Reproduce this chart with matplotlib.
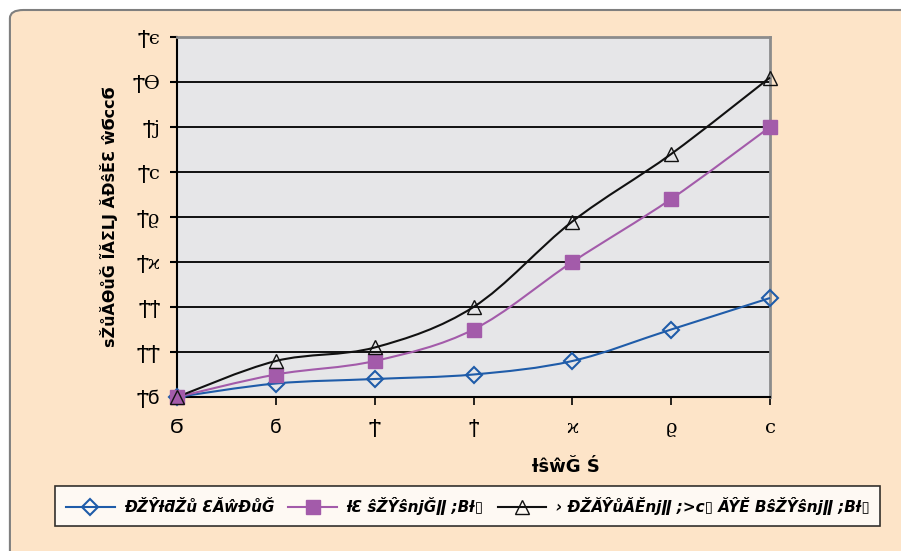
import matplotlib.pyplot as plt
import numpy as np
from matplotlib.path import Path
from matplotlib.patches import PathPatch, FancyBboxPatch
from matplotlib.lines import Line2D

# dados
tempo = [0, 1, 2, 3, 4, 5, 6]
controle = [21.0, 21.3, 21.4, 21.5, 21.8, 22.5, 23.2]
ionizado = [21.0, 21.5, 21.8, 22.5, 24.0, 25.4, 27.0]
coag_ion = [21.0, 21.8, 22.1, 23.0, 24.9, 26.4, 28.1]

xticks_lbl = ["Ϭ", "ϭ", "Ϯ", "ϯ", "ϰ", "ϱ", "ϲ"]
yticks = [21, 22, 23, 24, 25, 26, 27, 28, 29]
yticks_lbl = ["Ϯϭ", "ϮϮ", "Ϯϯ", "Ϯϰ", "Ϯϱ", "Ϯϲ", "Ϯϳ", "Ϯϴ", "Ϯϵ"]

nomes = ["ĐŽŶƚƌŽů ƐĂŵƉůĞ",
         "ƚƐ ŝŽŶŝnjĞǁ ;Bƚ▯",
         "› ĐŽĂŶůĂĚnjǁ ;>ϲ▯ ĂŶĚ BŝŽŶŝnjǁ ;Bƚ▯"]
xlabel = "ƚŝŵĞ Ś"
ylabel = "sŽůĂƟůĞ ĨĂƩLJ ĂĐŝĚƐ ŵϬϲϲϬ"

cores = ["#1F5CA9", "#A35BAA", "#111111"]


def curva_suave(x, y):
    # curva tipo Excel (Bezier com pontos de controle de Catmull-Rom)
    p = np.column_stack([x, y]).astype(float)
    verts = [p[0]]
    codes = [Path.MOVETO]
    n = len(p)
    for i in range(n - 1):
        p0 = p[i - 1] if i > 0 else p[i]
        p3 = p[i + 2] if i + 2 < n else p[i + 1]
        c1 = p[i] + (p[i + 1] - p0) / 6
        c2 = p[i + 1] - (p3 - p[i]) / 6
        verts += [c1, c2, p[i + 1]]
        codes += [Path.CURVE4] * 3
    return Path(verts, codes)


fig = plt.figure(figsize=(9.01, 5.51), dpi=100, facecolor="white")

# moldura externa
moldura = FancyBboxPatch((0.011, -0.1), 1.2, 1.1 - 10 / 551,
                         boxstyle="round,pad=0,rounding_size=0.015",
                         transform=fig.transFigure, facecolor="#FDE4C8",
                         edgecolor="#7F7F7F", linewidth=1.5, zorder=-10)
fig.patches.append(moldura)

ax = fig.add_axes([177 / 901, 1 - 397 / 551, (770 - 177) / 901, 360 / 551])
ax.set_facecolor("#E6E6E8")

ax.set_xlim(0, 6)
ax.set_ylim(21, 29)
ax.set_yticks(yticks)
ax.set_yticklabels(yticks_lbl, family=["DejaVu Serif", "DejaVu Sans"], fontsize=14)
ax.set_xticks(tempo)
ax.set_xticklabels(xticks_lbl, family=["DejaVu Serif", "DejaVu Sans"], fontsize=14)
ax.tick_params(axis="y", length=5, width=1.5, pad=7)
ax.tick_params(axis="x", length=6, width=1.2, pad=10)

ax.grid(axis="y", color="black", linewidth=1.3)
ax.set_axisbelow(True)
for lado in ["left", "bottom"]:
    ax.spines[lado].set_color("black")
    ax.spines[lado].set_linewidth(1.5)
for lado in ["top", "right"]:
    ax.spines[lado].set_color("#8C8C8C")
    ax.spines[lado].set_linewidth(2)

series = [controle, ionizado, coag_ion]
marcadores = [dict(marker="D", markersize=8, markerfacecolor="none", markeredgewidth=1.5),
              dict(marker="s", markersize=10),
              dict(marker="^", markersize=10, markerfacecolor="none", markeredgewidth=1.0)]
handles = []
for ys, cor, mk in zip(series, cores, marcadores):
    ax.add_patch(PathPatch(curva_suave(tempo, ys), facecolor="none", edgecolor=cor,
                           linewidth=1.5, clip_on=False, zorder=3))
    ax.plot(tempo, ys, linestyle="none", color=cor, clip_on=False, zorder=4, **mk)
    handles.append(Line2D([], [], color=cor, linewidth=1.5, **mk))

ax.set_ylabel(ylabel, fontsize=11.5, fontweight="bold")
ax.yaxis.set_label_coords(-0.1, 0.5)
ax.set_xlabel(xlabel, fontsize=13, fontweight="bold")
ax.xaxis.set_label_coords(0.656, -0.17)

leg = fig.legend(handles, nomes, loc="center", ncol=3, mode="expand",
                 bbox_to_anchor=(55 / 901, 1 - 527 / 551, 825 / 901, 42 / 551),
                 prop=dict(weight="bold", style="italic", size=11),
                 frameon=True, fancybox=False, edgecolor="black",
                 handlelength=3.2, handletextpad=0.6, borderaxespad=0, borderpad=0.7)
leg.get_frame().set_linewidth(1.2)
leg.get_frame().set_facecolor("white")

fig.savefig("out.png", dpi=100, facecolor=fig.get_facecolor())
